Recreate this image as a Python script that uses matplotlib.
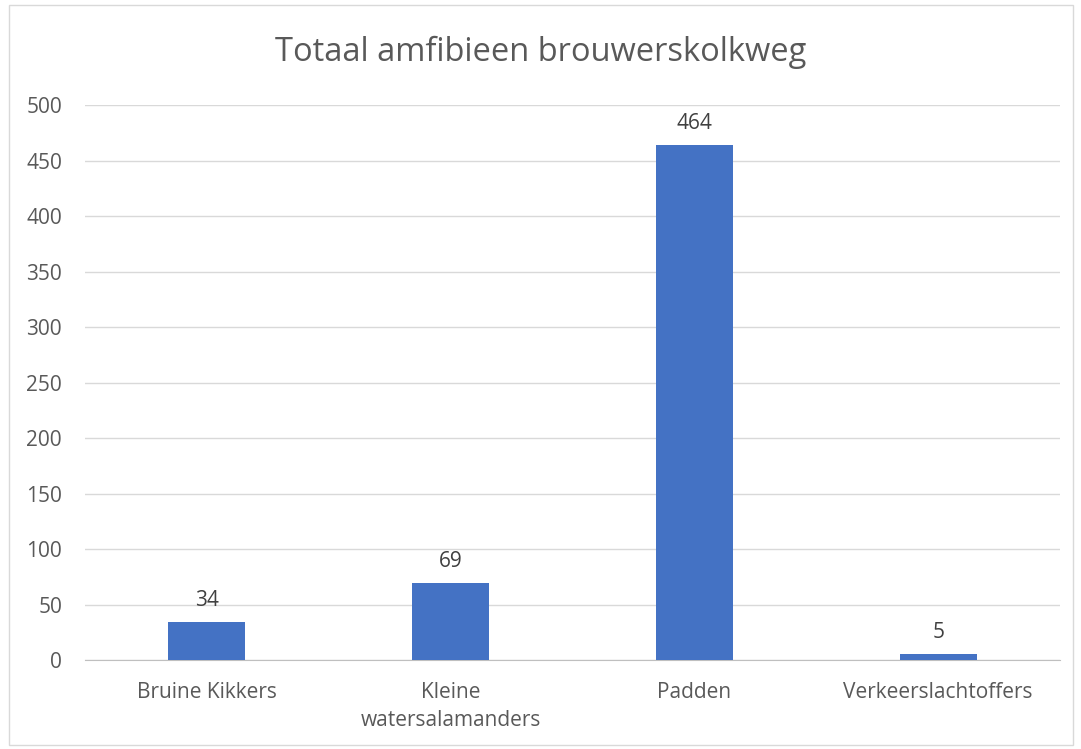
import matplotlib.pyplot as plt
from matplotlib.patches import Rectangle

categories = ['Bruine Kikkers', 'Kleine\nwatersalamanders', 'Padden', 'Verkeerslachtoffers']
values = [34, 69, 464, 5]
yticks = [0, 50, 100, 150, 200, 250, 300, 350, 400, 450, 500]

plt.rcParams['font.family'] = ['Open Sans', 'DejaVu Sans']
text_color = '#595959'

fig = plt.figure(figsize=(10.81, 7.49), dpi=100)
ax = fig.add_axes([0.0786, 0.1188, 0.902, 0.741])

x = range(len(categories))
bars = ax.bar(x, values, width=0.316, color='#4472C4', zorder=3)

for xi, v in zip(x, values):
    ax.text(xi, v + 10, str(v), ha='center', va='bottom', fontsize=15, color='#404040')

ax.set_xlim(-0.5, len(categories) - 0.5)
ax.set_ylim(0, 500)
ax.set_yticks(yticks)
ax.set_xticks(list(x))
ax.set_xticklabels(categories, fontsize=15, color=text_color, linespacing=1.45)
ax.tick_params(axis='y', labelsize=15, labelcolor=text_color, length=0, pad=16.5)
ax.tick_params(axis='x', length=0, pad=16)
ax.grid(axis='y', color='#d9d9d9', linewidth=1, zorder=0)

for side in ['top', 'right', 'left']:
    ax.spines[side].set_visible(False)
ax.spines['bottom'].set_color('#bfbfbf')

fig.text(0.5, 0.93, 'Totaal amfibieen brouwerskolkweg', ha='center', va='center',
         fontsize=23.5, color=text_color)

fig.patches.append(Rectangle((0.008, 0.006), 0.985, 0.987, transform=fig.transFigure,
                             fill=False, edgecolor='#d9d9d9', linewidth=1))

fig.savefig('out.png', dpi=100)
